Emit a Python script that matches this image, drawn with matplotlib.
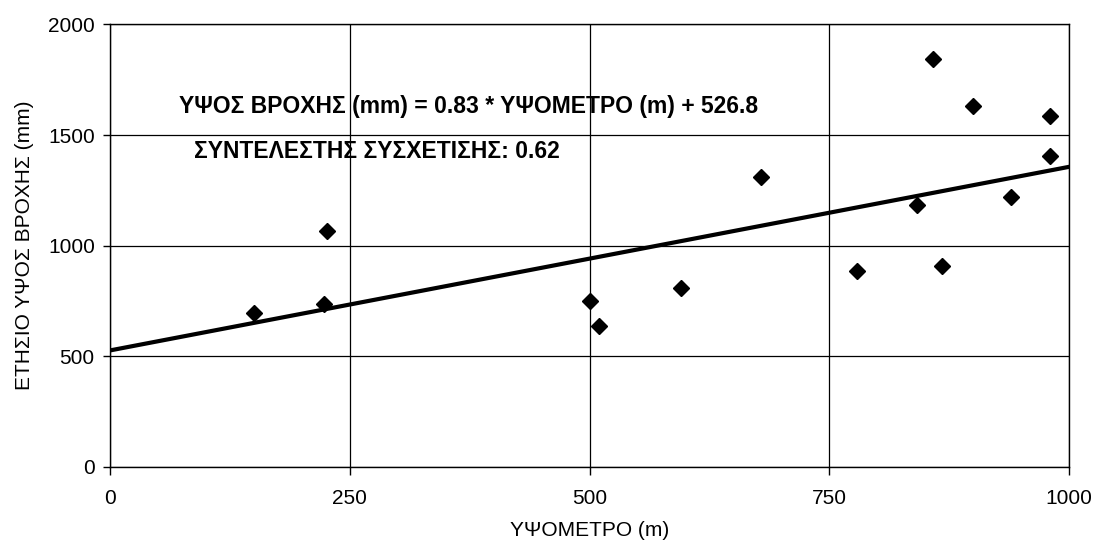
import numpy as np
import matplotlib
matplotlib.use("Agg")
from matplotlib import pyplot as plt

plt.rcParams["font.family"] = ["Liberation Sans", "DejaVu Sans"]

# stations: altitude (m) and annual rainfall (mm)
altitude = [150, 223, 226, 500, 510, 595, 679, 779, 841, 858, 867, 900, 939, 980, 980]
rainfall = [698, 738, 1065, 748, 638, 808, 1310, 888, 1185, 1845, 908, 1630, 1220, 1585, 1405]

# fitted line
slope = 0.83
intercept = 526.8
r_coef = 0.62

x_ticks = [0, 250, 500, 750, 1000]
y_ticks = [0, 500, 1000, 1500, 2000]

fig = plt.figure(figsize=(10.95, 5.49), dpi=100)
ax = fig.add_axes([0.1005, 0.1494, 0.876, 0.806])

line_x = np.array([0, 1000])
ax.plot(line_x, slope * line_x + intercept, color="black", lw=3.0, zorder=3)
ax.plot(altitude, rainfall, linestyle="none", marker="D", ms=8.5,
        color="black", zorder=4)

ax.set_xlim(0, 1000)
ax.set_ylim(0, 2000)
ax.set_xticks(x_ticks)
ax.set_yticks(y_ticks)
ax.grid(True, color="black", lw=0.9)
ax.set_axisbelow(True)
for s in ax.spines.values():
    s.set_color("black")
    s.set_linewidth(1.0)

ax.tick_params(axis="x", length=6, width=1, pad=10, labelsize=15)
ax.tick_params(axis="y", length=5, width=1, pad=6, labelsize=15)

ax.set_xlabel("ΥΨΟΜΕΤΡΟ (m)", fontsize=15, labelpad=9)
ax.set_ylabel("ΕΤΗΣΙΟ ΥΨΟΣ ΒΡΟΧΗΣ (mm)", fontsize=15, labelpad=10)

ax.text(0.072, 0.814,
        "ΥΨΟΣ ΒΡΟΧΗΣ (mm) = %.2f * ΥΨΟΜΕΤΡΟ (m) + %.1f" % (slope, intercept),
        transform=ax.transAxes, fontsize=16.5, fontweight="bold",
        va="center", ha="left")
ax.text(0.0876, 0.714, "ΣΥΝΤΕΛΕΣΤΗΣ ΣΥΣΧΕΤΙΣΗΣ: %.2f" % r_coef,
        transform=ax.transAxes, fontsize=16.5, fontweight="bold",
        va="center", ha="left")

fig.savefig("out.png", dpi=100)
